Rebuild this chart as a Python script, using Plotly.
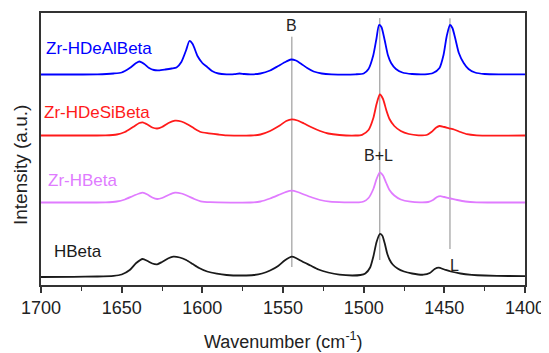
import plotly.graph_objects as go

# ---------------- data ----------------
series_names = ["Zr-HDeAlBeta", "Zr-HDeSiBeta", "Zr-HBeta", "HBeta"]
series_colors = ["#0000FF", "#FF1A1A", "#E07BFF", "#1A1A1A"]

wn_zr_hdealbeta = [1700, 1680, 1665, 1655, 1650, 1645, 1641, 1639, 1636, 1633, 1630, 1627, 1623, 1619,
                   1616, 1613, 1610, 1608, 1606, 1603, 1600, 1597, 1594, 1590, 1585, 1580, 1577, 1574,
                   1570, 1564, 1558, 1553, 1548, 1545, 1542, 1539, 1535, 1531, 1526, 1520, 1505, 1500,
                   1497, 1494, 1492, 1490.5, 1489, 1487, 1485, 1483, 1480, 1476, 1470, 1462, 1457, 1453,
                   1450.5, 1448.5, 1446.5, 1445, 1443, 1441, 1438, 1435, 1431, 1425, 1415, 1400]
int_zr_hdealbeta = [210.5, 210.5, 210.7, 211.5, 212.5, 217, 222, 223.5, 221, 217, 215, 214.7, 215.5, 216.5,
                    217.5, 223, 235, 244, 241, 229, 222, 218, 214, 211.5, 210.7, 210.8, 211.5, 211,
                    210.7, 211.5, 214.5, 219, 223.5, 225.5, 224.5, 221.5, 217, 213.5, 211.5, 210.7, 210.7, 211.5,
                    216, 230, 247, 260, 258, 245, 230, 222, 216, 212.5, 211, 210.7, 212, 217,
                    230, 249, 260, 257, 245, 232, 222, 216, 212.5, 211, 210.7, 210.7]

wn_zr_hdesibeta = [1700, 1660, 1653, 1648, 1643, 1639, 1637, 1634, 1631, 1628, 1625, 1621, 1617, 1613,
                   1609, 1605, 1601, 1596, 1590, 1585, 1570, 1564, 1558, 1552, 1548, 1544.5, 1541, 1537,
                   1532, 1527, 1522, 1515, 1505, 1501, 1497, 1494, 1492, 1490, 1488, 1486, 1484, 1481,
                   1477, 1472, 1466, 1461, 1458, 1455, 1453, 1450, 1447, 1444, 1440, 1436, 1430, 1400]
int_zr_hdesibeta = [149.5, 149.7, 150.5, 153, 158, 162, 162.7, 160.5, 157.5, 156.5, 158, 162, 164.3, 163.5,
                    160.5, 156.5, 153, 151.7, 150.5, 149.7, 149.5, 150.5, 154, 159.5, 164, 165.7, 164.5, 161.5,
                    157.5, 154, 151.5, 150, 149.5, 150.2, 155, 167, 181, 190.5, 186, 175, 166, 159,
                    154, 151, 149.7, 150, 153, 157.5, 159, 158, 156.7, 155.5, 153, 150.8, 149.7, 149.5]

wn_zr_hbeta = [1700, 1660, 1653, 1648, 1643, 1639, 1637, 1634, 1631, 1628, 1625, 1621, 1617, 1613,
               1609, 1605, 1601, 1595, 1570, 1564, 1558, 1552, 1548, 1544.5, 1541, 1537, 1532, 1527,
               1521, 1512, 1503, 1500, 1497, 1494, 1492, 1490, 1488, 1486, 1484, 1481, 1477, 1471,
               1465, 1460, 1457, 1454.5, 1452.5, 1450, 1446, 1442, 1437, 1430, 1400]
int_zr_hbeta = [82.5, 82.7, 83.5, 85.5, 89, 91.5, 92.3, 90.5, 87.5, 86, 87, 90, 92.3, 91.5,
                89, 86, 83.7, 82.8, 82.5, 83.5, 86.5, 90.5, 93.2, 94.3, 93, 90.5, 87.5, 85,
                83.3, 82.7, 82.7, 83.5, 87, 96, 106, 112.7, 109.5, 102, 95, 89.5, 85.5, 83.3,
                82.7, 83, 85, 88, 88.8, 88, 86.5, 85, 83.5, 82.7, 82.5]

wn_hbeta = [1700, 1680, 1665, 1655, 1650, 1645, 1641, 1637, 1634, 1631, 1628, 1625, 1621, 1618,
            1614, 1610, 1606, 1602, 1597, 1591, 1585, 1575, 1568, 1563, 1558, 1553, 1549, 1546,
            1544.5, 1542, 1538, 1533, 1528, 1522, 1515, 1507, 1502, 1499, 1496, 1494, 1492, 1490,
            1488.5, 1487, 1485.5, 1484, 1482, 1479, 1475, 1470, 1463, 1459, 1456, 1453.5, 1450, 1446,
            1440, 1433, 1425, 1410, 1400]
int_hbeta = [8, 8.2, 8.5, 9.2, 10.5, 15, 22, 26, 24, 21.5, 20.7, 23, 26.7, 28.3,
             27.5, 25, 21, 17, 13.5, 11.3, 10, 9.5, 10, 11.5, 14.5, 19, 24.5, 27.5,
             28.3, 27, 23.5, 19.5, 15.5, 12.5, 10.3, 9.5, 10, 11.5, 17.5, 28.5, 43, 51,
             49.5, 42, 32, 25.5, 20.5, 16.5, 13.5, 11.5, 10.3, 12, 16, 17.3, 15.5, 13.5,
             11.5, 10.2, 9.5, 9, 8.8]

# vertical marker lines: position, top, bottom (a.u.) and their labels
marker_wn = [1544.5, 1490, 1446.5]
marker_top = [248.3, 267, 266.7]
marker_bottom = [18, 25, 36]
marker_labels = ["B", "B+L", "L"]
marker_label_wn = [1544.5, 1490.8, 1444.0]
marker_label_y = [260, 130, 20]

# series label heights (a.u.)
series_label_y = [236.7, 172.3, 104.3, 33.3]

x_ticks = [1700, 1650, 1600, 1550, 1500, 1450, 1400]

# ---------------- figure ----------------
FONT = "Liberation Sans, Arial, Helvetica, sans-serif"
TXT = "#222222"
fig = go.Figure()

all_wn = [wn_zr_hdealbeta, wn_zr_hdesibeta, wn_zr_hbeta, wn_hbeta]
all_int = [int_zr_hdealbeta, int_zr_hdesibeta, int_zr_hbeta, int_hbeta]
for name, color, xs, ys in zip(series_names, series_colors, all_wn, all_int):
    fig.add_trace(go.Scatter(x=xs, y=ys, mode="lines", name=name,
                             line=dict(color=color, width=1.8, shape="spline", smoothing=0.6),
                             showlegend=False))

for xw, y0, y1 in zip(marker_wn, marker_top, marker_bottom):
    fig.add_shape(type="line", x0=xw, x1=xw, y0=y0, y1=y1, xref="x", yref="y",
                  line=dict(color="#8a8a8a", width=1), layer="below")

for xw, yl, txt in zip(marker_label_wn, marker_label_y, marker_labels):
    fig.add_annotation(x=xw, y=yl, text=txt, showarrow=False, xref="x", yref="y",
                       font=dict(family=FONT, size=16, color=TXT),
                       xanchor="center", yanchor="middle")

label_x = [0.006, 0.003, 0.01, 0.022]
for name, color, yl, lx in zip(series_names, series_colors, series_label_y, label_x):
    fig.add_annotation(x=lx, y=yl, text=name, showarrow=False, xref="paper", yref="y",
                       font=dict(family=FONT, size=17, color=color),
                       xanchor="left", yanchor="middle")

# axis titles placed as annotations
fig.add_annotation(x=0.5, y=-0.203, xref="paper", yref="paper", showarrow=False,
                   text="Wavenumber (cm<sup>-1</sup>)", xanchor="center", yanchor="middle",
                   font=dict(family=FONT, size=18, color=TXT))
fig.add_annotation(x=-0.0434, y=0.441, xref="paper", yref="paper", showarrow=False,
                   text="Intensity (a.u.)", textangle=-90, xanchor="center", yanchor="middle",
                   font=dict(family=FONT, size=19, color=TXT))

# the page body adds an 8px offset, so the figure is 8px smaller and shifted
fig.update_layout(
    width=541, height=345,
    margin=dict(l=33, r=24, t=5, b=68),
    paper_bgcolor="white", plot_bgcolor="white",
    font=dict(family=FONT, color=TXT),
)
fig.update_xaxes(
    range=[1700, 1400], tickvals=x_ticks, ticktext=[str(v) for v in x_ticks],
    ticks="outside", ticklen=6, tickwidth=1.5, tickcolor="#333333",
    minor=dict(dtick=25, tick0=1400, ticks="outside", ticklen=4, tickwidth=1.2, tickcolor="#333333"),
    showline=True, linecolor="#333333", linewidth=1.5, mirror=True,
    showgrid=False, zeroline=False, automargin=False,
    tickfont=dict(family=FONT, size=18, color=TXT),
)
fig.update_yaxes(
    range=[0, 272], showticklabels=False, ticks="",
    showline=True, linecolor="#333333", linewidth=1.5, mirror=True,
    showgrid=False, zeroline=False, automargin=False,
)

fig.write_html("out.html")
